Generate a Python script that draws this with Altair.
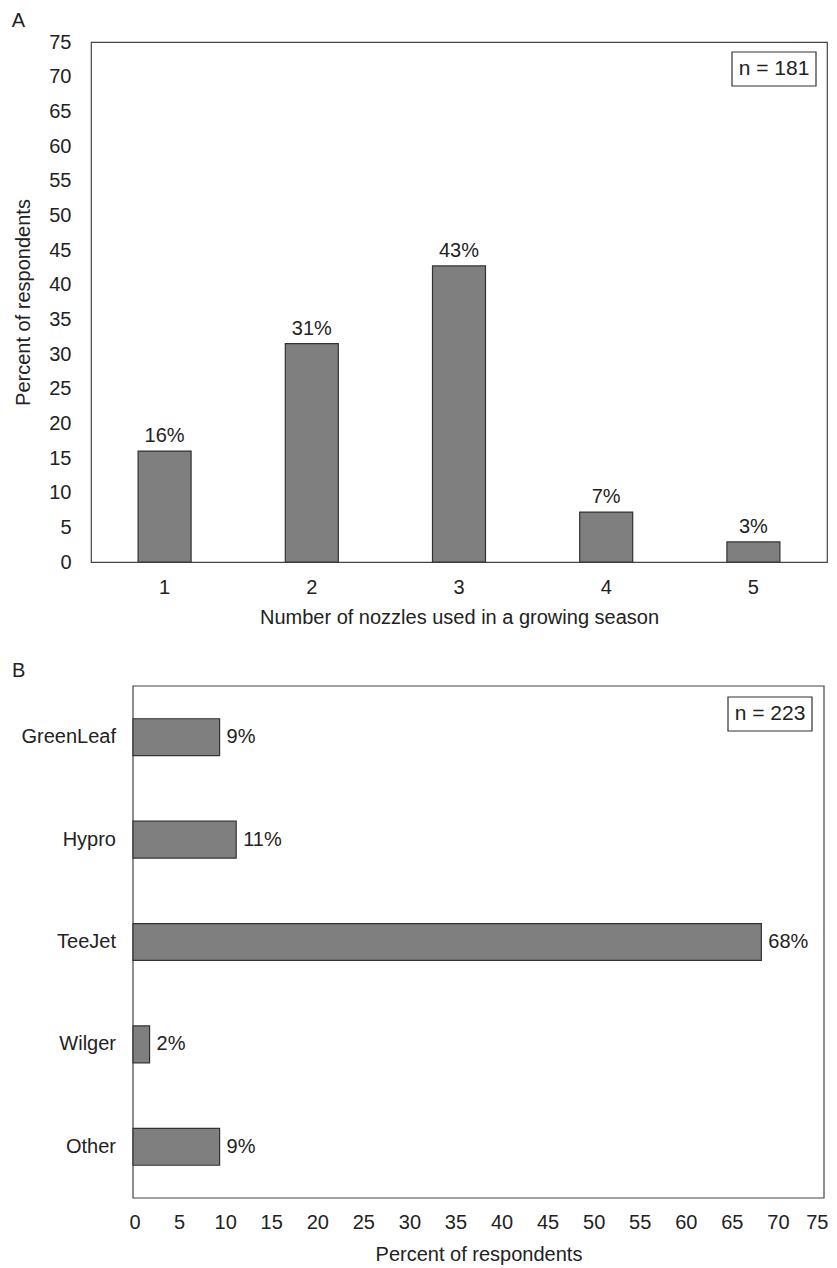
import altair as alt
import pandas as pd

nozzles = ["1", "2", "3", "4", "5"]
nozzle_pct = [16.0, 31.5, 42.7, 7.2, 2.9]
nozzle_lbl = ["16%", "31%", "43%", "7%", "3%"]

brands = ["GreenLeaf", "Hypro", "TeeJet", "Wilger", "Other"]
brand_pct = [9.4, 11.2, 68.2, 1.8, 9.4]
brand_lbl = ["9%", "11%", "68%", "2%", "9%"]

ticks = list(range(0, 80, 5))

FONT = "Liberation Sans"
FS = 20
BAR = "#7f7f7f"
EDGE = "#333333"
TXT = "#222222"

dfA = pd.DataFrame({"n": nozzles, "pct": nozzle_pct, "lbl": nozzle_lbl})
dfB = pd.DataFrame({"brand": brands, "pct": brand_pct, "lbl": brand_lbl})

# ---------------- Panel A ----------------
xA = alt.X("n:O", sort=nozzles,
           scale=alt.Scale(paddingInner=0.64, paddingOuter=0.32),
           axis=alt.Axis(title="Number of nozzles used in a growing season", labelAngle=0,
                         ticks=False, domain=False, labelPadding=15, titlePadding=10))
yA = alt.Y("pct:Q", scale=alt.Scale(domain=[0, 75], nice=False),
           axis=alt.Axis(title="Percent of respondents", values=ticks, grid=False,
                         labelOverlap=False, labelFlush=False, ticks=False, domain=False,
                         labelPadding=20, titlePadding=15))

barsA = alt.Chart(dfA).mark_bar(color=BAR, stroke=EDGE, strokeWidth=1.2).encode(x=xA, y=yA)
textA = alt.Chart(dfA).mark_text(baseline="alphabetic", dy=-9, fontSize=FS, font=FONT,
                                 color=TXT).encode(x=xA, y=yA, text="lbl:N")
boxA = alt.Chart(pd.DataFrame({"t": ["n = 181"]})).mark_rect(
    fill="white", stroke=EDGE, strokeWidth=1.2).encode(
    x=alt.value(641), x2=alt.value(725), y=alt.value(10), y2=alt.value(44))
nA = alt.Chart(pd.DataFrame({"t": ["n = 181"]})).mark_text(
    fontSize=21, font=FONT, color=TXT).encode(x=alt.value(683), y=alt.value(27), text="t:N")

chartA = alt.layer(barsA, textA, boxA, nA).properties(
    width=736, height=520,
    title=alt.TitleParams("A", anchor="start", frame="bounds", fontSize=FS, font=FONT,
                          fontWeight="normal", color=TXT, offset=1, dx=-2))

# ---------------- Panel B ----------------
xB = alt.X("pct:Q", scale=alt.Scale(domain=[0, 75], nice=False, range=[42, 733]),
           axis=alt.Axis(title="Percent of respondents", values=ticks, grid=False,
                         labelOverlap=False, labelFlush=True, labelFlushOffset=4,
                         ticks=False, domain=False,
                         labelPadding=14, titlePadding=12, titleX=387.5))
yB = alt.Y("brand:N", sort=brands,
           scale=alt.Scale(paddingInner=0.64, paddingOuter=0.32),
           axis=None)

frameB = alt.Chart(pd.DataFrame({"t": ["frame"]})).mark_rect(
    fillOpacity=0, stroke="#444", strokeWidth=1.2).encode(
    x=alt.value(42), x2=alt.value(733), y=alt.value(0), y2=alt.value(512))
barsB = alt.Chart(dfB).mark_bar(color=BAR, stroke=EDGE, strokeWidth=1.2).encode(x=xB, y=yB)
textB = alt.Chart(dfB).mark_text(dx=7, align="left", fontSize=FS, font=FONT,
                                 color=TXT).encode(x=xB, y=yB, text="lbl:N")
catB = alt.Chart(dfB).mark_text(align="right", fontSize=FS, font=FONT, color=TXT).encode(
    x=alt.value(25), y=yB, text="brand:N")
boxB = alt.Chart(pd.DataFrame({"t": ["n = 223"]})).mark_rect(
    fill="white", stroke=EDGE, strokeWidth=1.2).encode(
    x=alt.value(637), x2=alt.value(721), y=alt.value(11), y2=alt.value(45))
nB = alt.Chart(pd.DataFrame({"t": ["n = 223"]})).mark_text(
    fontSize=21, font=FONT, color=TXT).encode(x=alt.value(679), y=alt.value(28), text="t:N")

chartB = alt.layer(frameB, barsB, textB, catB, boxB, nB).properties(
    width=733, height=512,
    view=alt.ViewBackground(stroke="transparent"),
    title=alt.TitleParams("B", anchor="start", frame="group", fontSize=FS, font=FONT,
                          fontWeight="normal", color=TXT, offset=4, dx=-79))

chart = alt.vconcat(chartA, chartB, spacing=32).configure(
    background="white", padding={"left": 3, "top": 2, "right": 0, "bottom": 0}
).configure_view(
    stroke="#444", strokeWidth=1.2
).configure_axis(
    labelFont=FONT, titleFont=FONT, labelFontSize=FS, titleFontSize=FS,
    labelColor=TXT, titleColor=TXT, titleFontWeight="normal")

chart.save("out.html", embed_options={"renderer": "svg", "actions": False})
